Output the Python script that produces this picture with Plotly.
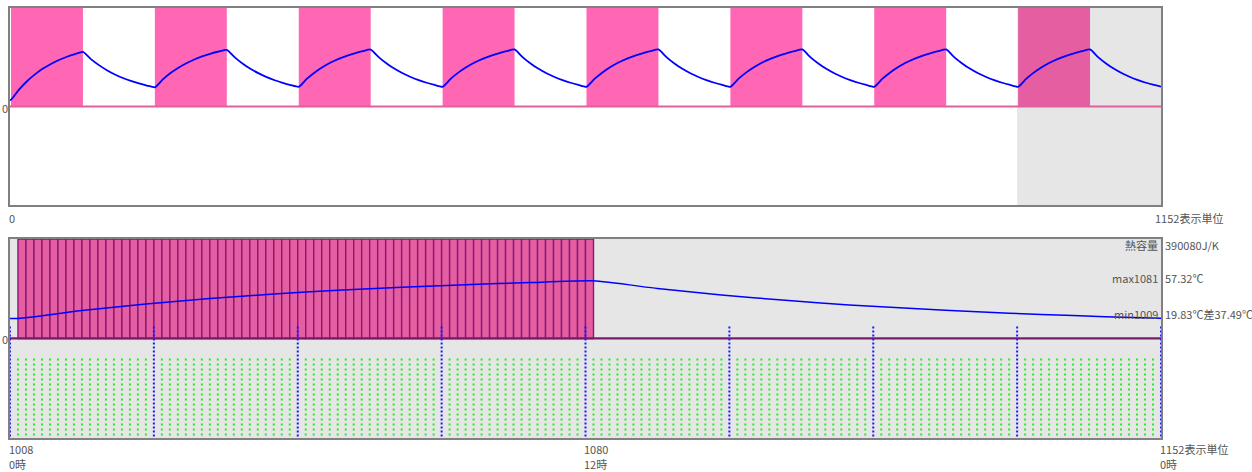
import plotly.graph_objects as go

# ---------------- data ----------------
# sample offsets inside each 144-step day (heater on 1..73, off 73..145)
SAMPLE_OFFSETS = [1, 9, 17, 25, 33, 41, 49, 57, 65, 73, 81, 89, 97, 105, 113, 121, 129, 137]
DAY_TEMPS = [
    [6.8, 17.0, 25.4, 32.3, 38.1, 42.8, 46.8, 50.0, 52.7, 54.9, 47.6, 41.6, 36.5, 32.2, 28.7, 25.7, 23.2, 21.1],
    [19.3, 27.3, 33.9, 39.3, 43.8, 47.5, 50.6, 53.2, 55.3, 57.0, 49.4, 43.0, 37.7, 33.3, 29.5, 26.4, 23.8, 21.6],
    [19.8, 27.8, 34.3, 39.7, 44.2, 47.9, 51.0, 53.5, 55.6, 57.3, 49.7, 43.3, 37.9, 33.4, 29.7, 26.5, 23.9, 21.7],
    [19.83, 27.8, 34.3, 39.7, 44.2, 47.9, 51.0, 53.5, 55.6, 57.32, 49.7, 43.3, 37.9, 33.4, 29.7, 26.5, 23.9, 21.7],
    [19.83, 27.8, 34.3, 39.7, 44.2, 47.9, 51.0, 53.5, 55.6, 57.32, 49.7, 43.3, 37.9, 33.4, 29.7, 26.5, 23.9, 21.7],
    [19.83, 27.8, 34.3, 39.7, 44.2, 47.9, 51.0, 53.5, 55.6, 57.32, 49.7, 43.3, 37.9, 33.4, 29.7, 26.5, 23.9, 21.7],
    [19.83, 27.8, 34.3, 39.7, 44.2, 47.9, 51.0, 53.5, 55.6, 57.32, 49.7, 43.3, 37.9, 33.4, 29.7, 26.5, 23.9, 21.7],
    [19.83, 27.8, 34.3, 39.7, 44.2, 47.9, 51.0, 53.5, 55.6, 57.32, 49.7, 43.3, 37.9, 33.4, 29.7, 26.5, 23.9, 21.7],
]
START_TEMP = 6.8
END_TEMP = 20.0
STEPS_PER_DAY = 144
TOTAL_STEPS = 1152

HEAT_STARTS = [1, 145, 289, 433, 577, 721, 865, 1009]   # heater-on periods (72 steps)
HEAT_LEN = 72
SELECTED_DAY_START = 1008
HEAT_STEPS = list(range(1009, 1081))                    # heater-on steps of the shown day
HOUR_MARKS = [1008, 1026, 1044, 1062, 1080, 1098, 1116, 1134, 1152]
GRID_STEPS = [s for s in range(1009, 1152) if s not in HOUR_MARKS]

Y_MAX = 99
INFO_LABELS = ["熱容量", "max1081", "min1009"]
INFO_VALUES = ["390080J/K", "57.32℃", "19.83℃差37.49℃"]

# ---------------- build ----------------
time = [0] + [STEPS_PER_DAY * d + o for d in range(len(DAY_TEMPS)) for o in SAMPLE_OFFSETS] + [TOTAL_STEPS]
temp = [START_TEMP] + [v for day in DAY_TEMPS for v in day] + [END_TEMP]

PINK = "#ff66b4"
PINK_SEL = "#e55ea2"
GRAY = "#e6e6e6"
FRAME = "#808080"
TXT = "#555555"
FONT = "Noto Sans CJK JP"

fig = go.Figure()

# top overview: heater bars
fig.add_trace(go.Bar(
    x=[s + HEAT_LEN / 2 for s in HEAT_STARTS], y=[Y_MAX] * len(HEAT_STARTS), base=0,
    width=HEAT_LEN,
    marker=dict(color=[PINK if s != SELECTED_DAY_START + 1 else PINK_SEL for s in HEAT_STARTS],
                line=dict(width=0)),
    xaxis="x", yaxis="y", showlegend=False, hoverinfo="skip"))
fig.add_trace(go.Scatter(x=[0, TOTAL_STEPS], y=[0, 0], mode="lines",
                         line=dict(color="#e0609e", width=2),
                         xaxis="x", yaxis="y", showlegend=False, hoverinfo="skip"))
fig.add_trace(go.Scatter(x=time, y=temp, mode="lines",
                         line=dict(color="#0000ff", width=1.8, shape="spline", smoothing=0.5),
                         xaxis="x", yaxis="y", showlegend=False))

# bottom detail
gx, gy = [], []
for s in GRID_STEPS:
    gx += [s, s, None]
    gy += [-20, -Y_MAX, None]
fig.add_trace(go.Scatter(x=gx, y=gy, mode="lines",
                         line=dict(color="#22ee22", width=2, dash="2px,3px"),
                         xaxis="x2", yaxis="y2", showlegend=False, hoverinfo="skip"))
fig.add_trace(go.Bar(
    x=[s + 0.5 for s in HEAT_STEPS], y=[Y_MAX] * len(HEAT_STEPS), base=0, width=1,
    marker=dict(color=PINK_SEL, line=dict(color="#851a74", width=1.4)),
    xaxis="x2", yaxis="y2", showlegend=False, hoverinfo="skip"))
fig.add_trace(go.Scatter(x=[SELECTED_DAY_START, TOTAL_STEPS], y=[0, 0], mode="lines",
                         line=dict(color="#7a1c6c", width=2.2),
                         xaxis="x2", yaxis="y2", showlegend=False, hoverinfo="skip"))
bx, by = [], []
for s in HOUR_MARKS:
    bx += [s, s, None]
    by += [12, -Y_MAX, None]
fig.add_trace(go.Scatter(x=bx, y=by, mode="lines",
                         line=dict(color="#1a1aff", width=2, dash="2px,2px"),
                         xaxis="x2", yaxis="y2", showlegend=False, hoverinfo="skip"))
fig.add_trace(go.Scatter(x=time, y=temp, mode="lines",
                         line=dict(color="#0000ff", width=1.5, shape="spline", smoothing=0.5),
                         xaxis="x2", yaxis="y2", showlegend=False))

shapes = [
    dict(type="rect", xref="x", yref="y", x0=SELECTED_DAY_START, x1=TOTAL_STEPS, y0=-Y_MAX, y1=Y_MAX,
         fillcolor=GRAY, line=dict(width=0), layer="below"),
    dict(type="rect", xref="x2", yref="y2", x0=SELECTED_DAY_START, x1=TOTAL_STEPS, y0=-Y_MAX, y1=Y_MAX,
         fillcolor=GRAY, line=dict(width=0), layer="below"),
]

W, H = 1252, 472
ML, MR, MT, MB = 10, 91, 6, 34
PW, PH = W - ML - MR, H - MT - MB


def px(x):
    return (x - ML) / PW


def py(y):
    return (H - MB - y) / PH


ann = []


def txt(text, x, y, anchor="left", size=11):
    ann.append(dict(text=text, x=px(x), y=py(y), xref="paper", yref="paper",
                    xanchor=anchor, yanchor="middle", showarrow=False,
                    font=dict(family=FONT, size=size, color=TXT)))


txt("0", 5, 106, "center")
txt("0", 5, 339, "center")
txt("0", 7, 217)
txt(f"{TOTAL_STEPS}表示単位", 1153, 217)
txt(f"{SELECTED_DAY_START}", 7, 449)
txt("0時", 7, 464)
txt(f"{HOUR_MARKS[4]}", 582, 449)
txt("12時", 582, 464)
txt(f"{TOTAL_STEPS}表示単位", 1158, 449)
txt("0時", 1158, 464)
for lab, val, yy in zip(INFO_LABELS, INFO_VALUES, [244, 277, 313]):
    txt(lab, 1160, yy, "right")
    txt(val, 1163, yy, "left")

axis_common = dict(showgrid=False, zeroline=False, showticklabels=False, ticks="",
                   showline=True, mirror=True, linecolor=FRAME, linewidth=2, fixedrange=True)

top_bottom = (H - MB - 204) / PH
bot_top = (H - MB - 238) / PH

fig.update_layout(
    width=W, height=H, margin=dict(l=ML, r=MR, t=MT, b=MB),
    paper_bgcolor="white", plot_bgcolor="white",
    barmode="overlay",
    xaxis=dict(range=[0, TOTAL_STEPS], domain=[0, 1], anchor="y", **axis_common),
    yaxis=dict(range=[-Y_MAX, Y_MAX], domain=[top_bottom, 1], anchor="x", **axis_common),
    xaxis2=dict(range=[SELECTED_DAY_START, TOTAL_STEPS], domain=[0, 1], anchor="y2", **axis_common),
    yaxis2=dict(range=[-Y_MAX, Y_MAX], domain=[0, bot_top], anchor="x2", **axis_common),
    shapes=shapes, annotations=ann, showlegend=False,
)

fig.write_html("out.html")
